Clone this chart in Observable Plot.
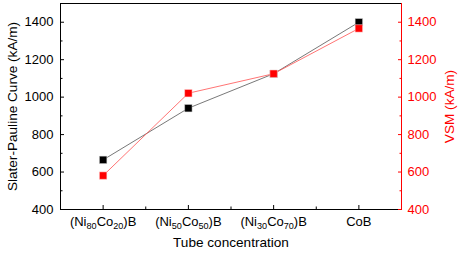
<!DOCTYPE html>
<html>
<head>
<meta charset="utf-8">
<script src="https://cdn.jsdelivr.net/npm/d3@7"></script>
<script src="https://cdn.jsdelivr.net/npm/@observablehq/plot@0.6"></script>
<style>
  html, body { margin: 0; padding: 0; background: #fff; }
  #chart svg { font-family: "Liberation Sans", Arial, sans-serif; }
</style>
</head>
<body>
<div id="chart"></div>
<script>
const categories = ["(Ni80Co20)B", "(Ni50Co50)B", "(Ni30Co70)B", "CoB"];
const slaterPauling = [665, 941, 1125, 1400];
const vsm = [581, 1021, 1125, 1367];
const yTicks = [400, 600, 800, 1000, 1200, 1400];
const yMinorTicks = [500, 700, 900, 1100, 1300];

const spData = categories.map((c, i) => ({x: i + 1, y: slaterPauling[i]}));
const vsmData = categories.map((c, i) => ({x: i + 1, y: vsm[i]}));

const chart = Plot.plot({
  width: 463,
  height: 253,
  marginLeft: 60,
  marginRight: 62,
  marginTop: 3,
  marginBottom: 44,
  style: {fontSize: "13px", fontFamily: "Liberation Sans, Arial, sans-serif", background: "#fff"},
  x: {domain: [0.5, 4.5]},
  y: {domain: [400, 1500]},
  marks: [
    Plot.frame({stroke: "#000", strokeWidth: 1}),
    Plot.ruleX([4.5], {stroke: "#ff0000", strokeWidth: 1}),
    // bottom axis
    Plot.axisX({ticks: [1, 2, 3, 4], tickFormat: d => categories[d - 1], tickSize: 0, tickPadding: 7, label: null, fill: "#000"}),
    Plot.axisX({ticks: [1, 2, 3, 4], tickSize: -4, text: null, label: "Tube concentration", labelAnchor: "center", labelArrow: "none", labelOffset: 37, fontSize: 13.6, stroke: "#000"}),
    Plot.axisX({ticks: [1.5, 2.5, 3.5], tickSize: -2.5, text: null, label: null, stroke: "#000"}),
    // left axis
    Plot.axisY({anchor: "left", ticks: yTicks, tickFormat: "d", tickSize: 0, tickPadding: 7, label: null, fill: "#000"}),
    Plot.axisY({anchor: "left", ticks: yTicks, tickSize: -4, text: null, label: "Slater-Pauline Curve (kA/m)", labelAnchor: "center", labelArrow: "none", labelOffset: 53, fontSize: 13.6, stroke: "#000"}),
    Plot.axisY({anchor: "left", ticks: yMinorTicks, tickSize: -2.5, text: null, label: null, stroke: "#000"}),
    // right axis
    Plot.axisY({anchor: "right", ticks: yTicks, tickFormat: "d", tickSize: 0, tickPadding: 6, label: null, fill: "#ff0000"}),
    Plot.axisY({anchor: "right", ticks: yTicks, tickSize: -4, text: null, label: "VSM (kA/m)", labelAnchor: "center", labelArrow: "none", labelOffset: 52, fontSize: 13.6, fill: "#ff0000", stroke: "#ff0000"}),
    Plot.axisY({anchor: "right", ticks: yMinorTicks, tickSize: -2.5, text: null, label: null, stroke: "#ff0000"}),
    // series
    Plot.line(spData, {x: "x", y: "y", stroke: "#555", strokeWidth: 0.8}),
    Plot.dot(spData, {x: "x", y: "y", symbol: "square", r: 4.2, fill: "#000", stroke: "#ddd", strokeWidth: 0.5}),
    Plot.line(vsmData, {x: "x", y: "y", stroke: "#ff5050", strokeWidth: 0.8}),
    Plot.dot(vsmData, {x: "x", y: "y", symbol: "square", r: 4.2, fill: "#ff0000", stroke: "#fdd", strokeWidth: 0.5})
  ]
});

// subscripts in category tick labels
d3.select(chart).selectAll("text").each(function() {
  const t = this.textContent;
  if (categories.includes(t) && /\d/.test(t)) {
    const sel = d3.select(this);
    sel.text(null);
    let shifted = false;
    t.split(/(\d+)/).forEach(part => {
      if (!part) return;
      if (/^\d+$/.test(part)) {
        sel.append("tspan").attr("font-size", "0.7em").attr("dy", "0.35em").text(part);
        shifted = true;
      } else {
        const ts = sel.append("tspan").text(part);
        if (shifted) { ts.attr("dy", "-0.245em"); shifted = false; }
      }
    });
  }
});

document.getElementById("chart").appendChild(chart);
</script>
</body>
</html>
